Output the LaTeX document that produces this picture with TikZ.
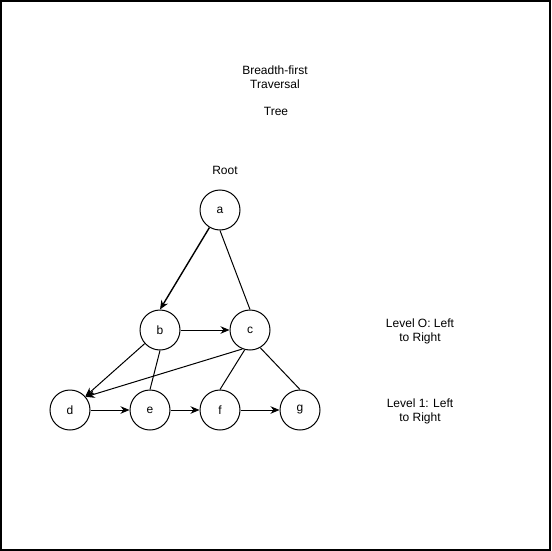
\documentclass[tikz,border=0pt]{standalone}
\usepackage{fontspec}
\setmainfont{Liberation Sans}
\usetikzlibrary{arrows.meta}
\tikzset{
  every picture/.style={font={\fontsize{12}{14}\selectfont}, >={Stealth[length=9pt,width=7.5pt]}},
  vertex/.style={circle, draw, line width=1pt, minimum size=40pt, inner sep=0pt},
  note/.style={align=center, inner sep=0pt}}

\begin{document}
\begin{tikzpicture}[x=1pt, y=-1pt, line width=1pt]
    \useasboundingbox (0,0) rectangle (551,551);
    \draw[line width=2pt] (1,1) rectangle (550,550);

    \node [note] (title) at (275,77) {Breadth-first\\Traversal};
    \node [note] (tree)  at (276,111) {Tree};
    \node [note] (root)  at (225,170) {Root};
    \node [note] (lvl0)  at (420,331) {Level O: Left\\to Right};
    \node [note] (lvl1)  at (420,411) {Level 1: Left\\to Right};

    \node [vertex] (a) at (220,210) {a};
    \node [vertex] (b) at (160,330) {b};
    \node [vertex] (c) at (250,330) {c};
    \node [vertex] (d) at (70,410)  {d};
    \node [vertex] (e) at (150,410) {e};
    \node [vertex] (f) at (220,410) {f};
    \node [vertex] (g) at (300,410) {g};

    % level order links
    \draw [->, line width=1.4pt] (a) -- (b.north);
    \draw [->] (b) -- (c);
    \draw [->] (b) -- (d);
    \draw [->] (c.248) -- (d.40);
    \draw [->] (d) -- (e);
    \draw [->] (e) -- (f);
    \draw [->] (f) -- (g);

    % tree edges
    \draw (a.south) -- (c.north);
    \draw (b.south) -- (e.north);
    \draw (c.255) -- (f.north);
    \draw (c.300) -- (g.north);
\end{tikzpicture}
\end{document}
